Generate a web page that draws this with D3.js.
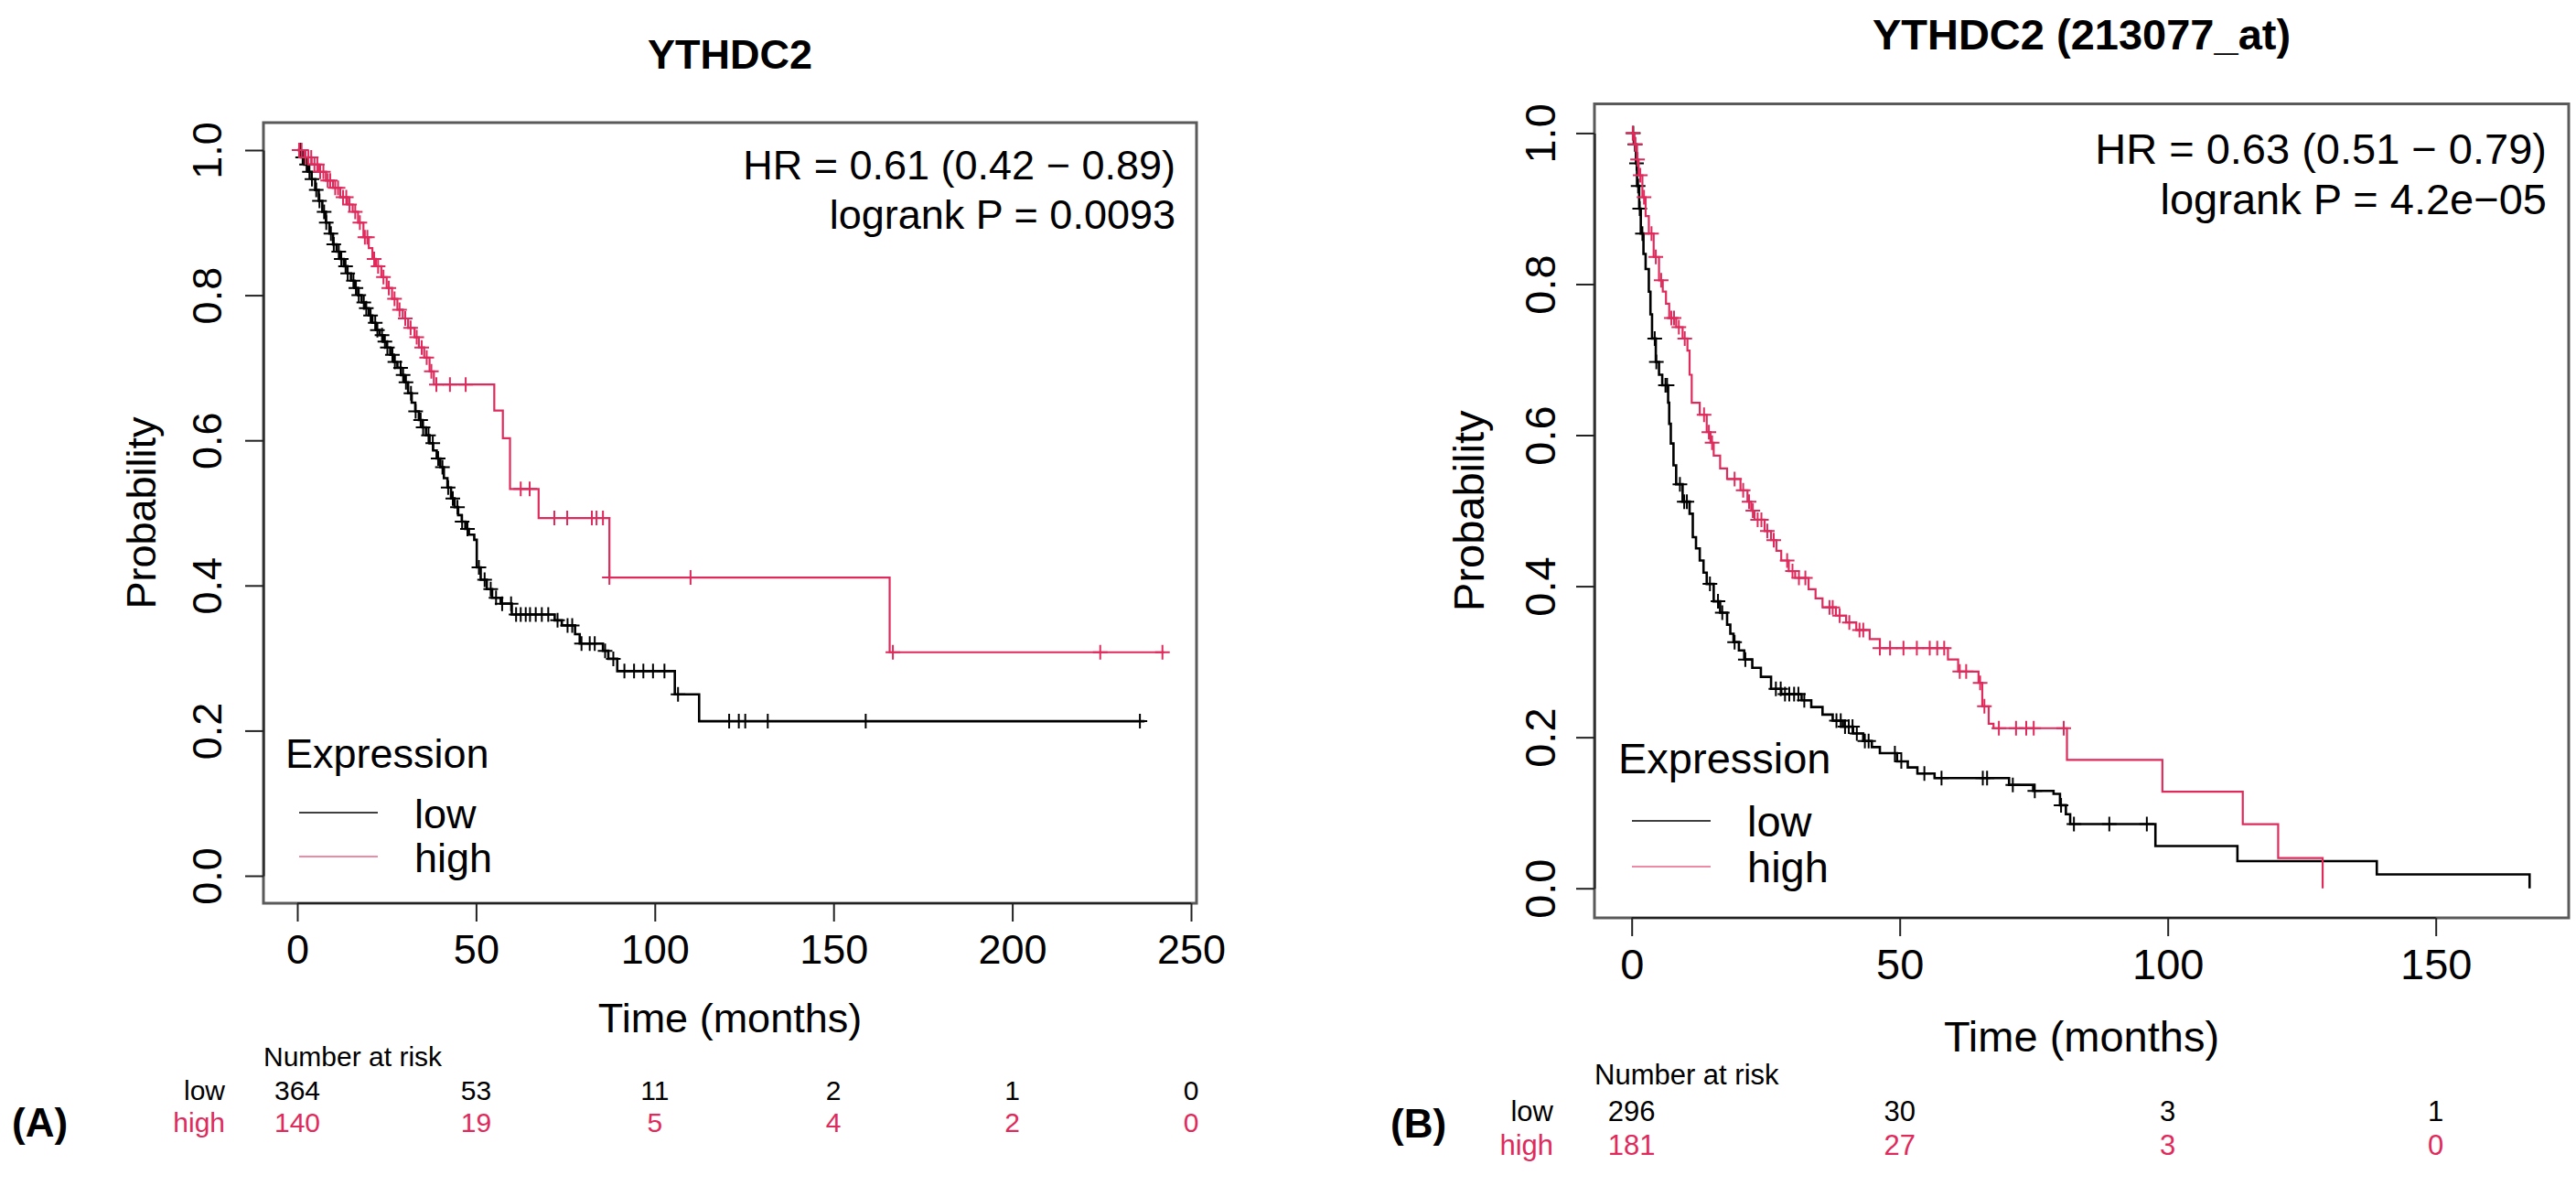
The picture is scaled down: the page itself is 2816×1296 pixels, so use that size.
<!DOCTYPE html>
<html>
<head>
<meta charset="utf-8">
<script src="https://cdnjs.cloudflare.com/ajax/libs/d3/7.8.5/d3.min.js"></script>
<style>
  body { margin: 0; background: #fff; }
  svg text { font-family: "Liberation Sans", Arial, sans-serif; }
</style>
</head>
<body>
<svg id="chart" width="2816" height="1296"></svg>
<script>
// ---- panel A data (YTHDC2) : [time in months, survival after step]
var lowA = [[0,1],[1,0.99],[2,0.98],[3,0.97],[4,0.96],[5,0.945],[6,0.93],[7,0.915],[8,0.9],[9,0.885],
  [10,0.87],[11,0.86],[12,0.85],[13,0.84],[14,0.83],[15,0.82],[16,0.81],[17,0.8],[18,0.79],[19,0.782],
  [20,0.772],[21,0.762],[22,0.752],[23,0.745],[24,0.736],[25,0.728],[26,0.718],[27,0.708],[28,0.7],[29,0.69],
  [30,0.68],[31,0.665],[32,0.652],[33,0.64],[34,0.628],[35,0.618],[36,0.607],[37,0.596],[38,0.586],[39,0.575],
  [40,0.563],[41,0.548],[42,0.535],[43,0.52],[44,0.508],[45,0.497],[46,0.488],[47,0.478],[48,0.47],[49.5,0.463],
  [50.2,0.425],[51.3,0.408],[53,0.395],[54.5,0.383],[56.9,0.375],[60,0.36],[72,0.352],[74,0.345],[77.7,0.333],
  [79,0.32],[85.5,0.31],[87,0.299],[89.5,0.282],[105.6,0.25],[112.4,0.213],[237,0.213]];
var highA = [[0,1],[2,0.99],[4,0.98],[6,0.97],[8,0.958],[10,0.948],[12,0.935],[14,0.925],[15.5,0.915],[17,0.9],
  [18.5,0.88],[20,0.865],[21,0.85],[22,0.84],[23.5,0.825],[25,0.81],[26.5,0.795],[28,0.78],[29.5,0.768],[31,0.755],
  [32.8,0.742],[34,0.728],[35.5,0.714],[37,0.695],[38.2,0.677],[55.1,0.641],[57.5,0.603],[59.5,0.533],[67.5,0.493],
  [87.3,0.411],[165.7,0.308],[242.5,0.308]];
var censLowA = [0.8,1.5,2.6,3.4,4.1,5.3,6.2,7.5,8.1,9.4,10.2,11.6,12.3,13.5,14.1,15.7,16.4,17.2,18.6,19.3,20.5,21.8,
  22.4,23.7,24.5,25.2,26.6,27.3,28.9,29.6,30.4,31.8,33.1,34.5,35.2,36.7,37.9,39.4,40.6,42.2,43.5,44.8,46.1,47.6,
  50.8,52.4,54.1,55.6,57.3,59.8,61.2,62.5,63.9,65.1,66.7,68.4,70.2,72.8,75.6,76.9,79.5,81.8,83.2,86.1,88.4,91.5,
  94.2,96.8,99.5,102.7,106.5,120.8,123.5,125.3,131.6,159,235.7];
var censHighA = [0.5,1.2,2.3,3.1,3.9,4.8,5.6,6.4,7.3,8.5,9.2,10.6,11.4,12.8,13.7,14.6,16.2,17.5,18.9,19.6,21.5,22.6,
  24.1,25.6,27.2,28.6,30.2,31.7,33.4,34.8,36.2,37.5,38.9,42.7,47.1,62.5,65,71.9,75.5,82.4,83.7,85.5,87.3,110,
  166.6,224.6,242];
var riskTimesA = [0, 50, 100, 150, 200, 250];
var riskLowA = [364, 53, 11, 2, 1, 0];
var riskHighA = [140, 19, 5, 4, 2, 0];
var xTicksA = [0, 50, 100, 150, 200, 250];

// ---- panel B data (YTHDC2 (213077_at))
var lowB = [[0,1],[0.4,0.985],[0.8,0.96],[1,0.93],[1.4,0.9],[1.7,0.867],[2.2,0.84],[2.6,0.82],[3.2,0.79],[3.5,0.76],
  [3.8,0.728],[4.5,0.697],[5.1,0.68],[5.7,0.666],[6.8,0.643],[7,0.615],[7.3,0.589],[7.8,0.56],[8.3,0.535],[9.5,0.512],
  [10.8,0.496],[11.4,0.465],[12,0.45],[12.7,0.434],[13.4,0.418],[14,0.403],[15.3,0.38],[16.5,0.365],[17.8,0.349],
  [18.4,0.337],[19,0.326],[20,0.315],[21,0.303],[22.5,0.292],[24.1,0.28],[26,0.264],[27.9,0.257],[31.7,0.249],
  [33.5,0.24],[35.6,0.23],[37.5,0.222],[39.4,0.214],[41.3,0.205],[43.2,0.195],[44.8,0.187],[46.3,0.179],[49.5,0.168],
  [51.5,0.16],[53.3,0.152],[56.5,0.146],[70.4,0.137],[74.9,0.129],[78.7,0.125],[79.9,0.11],[81,0.098],[81.8,0.085],
  [97.7,0.056],[113,0.036],[139,0.0185],[167.5,0]];
var highB = [[0,1],[0.5,0.985],[1,0.965],[1.3,0.944],[2,0.915],[2.6,0.89],[3.2,0.867],[4.1,0.836],[5.1,0.805],
  [5.8,0.79],[6.4,0.774],[7,0.755],[8.3,0.743],[9.5,0.728],[10.4,0.712],[10.8,0.68],[11.2,0.643],[12.7,0.627],
  [14,0.604],[14.7,0.59],[15.3,0.573],[16.5,0.556],[17.8,0.542],[20.3,0.527],[21.6,0.512],[22.3,0.5],[22.9,0.488],
  [24.8,0.473],[26,0.461],[27,0.447],[27.9,0.434],[29.3,0.42],[30.5,0.411],[33,0.396],[34.3,0.384],[35.6,0.372],
  [38.1,0.361],[40,0.352],[41.9,0.342],[44.4,0.33],[46.3,0.318],[59,0.303],[60.9,0.287],[64.7,0.272],[65.4,0.241],
  [66.6,0.218],[67.5,0.212],[81.2,0.17],[99,0.128],[114,0.085],[120.6,0.04],[128.9,0]];
var censLowB = [0.3,0.6,0.9,1.2,1.5,2,4.3,4.6,6.3,6.6,9,9.8,10.3,14.6,16.1,16.9,19.2,21.2,26.9,27.8,28.6,29.4,30.3,
  31.1,32.2,38.2,39,39.8,40.5,41.2,42,43.5,44.2,49.1,50.3,54.6,57.8,65.5,66.3,71.1,75.2,80.1,82.5,89.1,96.1];
var censHighB = [0.2,0.7,1.1,1.6,2.3,3.7,4.5,5.5,7.4,7.9,8.8,9.9,13.5,14.4,15,19.2,20.8,21.9,22.6,23.5,24.2,25.3,
  26.5,29,30,31.2,32.4,36.9,37.5,38.8,40.6,42.5,43.2,46.3,48.2,50.7,53.2,55.6,57,58.3,61.2,62.4,65,65.8,68.5,
  71.7,73.6,75,80.6];
var riskTimesB = [0, 50, 100, 150];
var riskLowB = [296, 30, 3, 1];
var riskHighB = [181, 27, 3, 0];
var xTicksB = [0, 50, 100, 150];

var yTicks = [0, 0.2, 0.4, 0.6, 0.8, 1.0];
var RED = "#df2a5c";

var svg = d3.select("#chart");

function survAt(curve, t) {
  var i = d3.bisector(function(d) { return d[0]; }).right(curve, t) - 1;
  return curve[Math.max(0, i)][1];
}

function drawPanel(p) {
  var g = svg.append("g");
  var x = d3.scaleLinear().domain([0, p.xMax]).range([p.x0, p.x1]);
  var y = d3.scaleLinear().domain([0, 1]).range([p.y0, p.y1]);
  var fs = p.fs;

  // title
  g.append("text").attr("x", (p.boxL + p.boxR) / 2).attr("y", p.titleY)
   .attr("text-anchor", "middle").attr("font-weight", "bold").attr("font-size", fs)
   .text(p.title);

  // box
  g.append("rect").attr("x", p.boxL).attr("y", p.boxT)
   .attr("width", p.boxR - p.boxL).attr("height", p.boxB - p.boxT)
   .attr("fill", "none").attr("stroke", "#5a5a5a").attr("stroke-width", 3);

  // axes
  var xa = g.append("g").attr("transform", "translate(0," + p.boxB + ")")
    .call(d3.axisBottom(x).tickValues(p.xTicks).tickSize(20).tickSizeOuter(0).tickPadding(14));
  xa.selectAll("text").attr("font-size", fs).attr("fill", "#000");
  xa.selectAll("line, path").attr("stroke", "#222").attr("stroke-width", 2);
  xa.select(".domain").attr("d", "M" + x(p.xTicks[0]) + ",0H" + x(p.xTicks[p.xTicks.length - 1]));

  var ya = g.append("g").attr("transform", "translate(" + p.boxL + ",0)")
    .call(d3.axisLeft(y).tickValues(yTicks).tickSize(20).tickSizeOuter(0).tickFormat(d3.format(".1f")));
  ya.selectAll("line, path").attr("stroke", "#222").attr("stroke-width", 2);
  ya.selectAll(".tick text").attr("font-size", fs).attr("fill", "#000")
    .attr("transform", "rotate(-90)").attr("x", 0).attr("y", p.yLabOff).attr("dy", 0)
    .attr("text-anchor", "middle");

  g.append("text").attr("transform", "translate(" + p.probX + "," + ((p.boxT + p.boxB) / 2) + ") rotate(-90)")
   .attr("text-anchor", "middle").attr("font-size", fs).text("Probability");
  g.append("text").attr("x", (p.boxL + p.boxR) / 2).attr("y", p.timeY)
   .attr("text-anchor", "middle").attr("font-size", fs).text("Time (months)");

  // curves
  var line = d3.line().curve(d3.curveStepAfter)
    .x(function(d) { return x(d[0]); }).y(function(d) { return y(d[1]); });
  var series = [
    { curve: p.low, cens: p.censLow, color: "#000", w: 2.6 },
    { curve: p.high, cens: p.censHigh, color: RED, w: 2.2 }
  ];
  series.forEach(function(s) {
    g.append("path").datum(s.curve).attr("d", line)
     .attr("fill", "none").attr("stroke", s.color).attr("stroke-width", s.w);
    var c = 8;
    g.selectAll(null).data(s.cens).enter().append("path")
     .attr("d", function(t) {
        var cx = x(t), cy = y(survAt(s.curve, t));
        return "M" + (cx - c) + "," + cy + "H" + (cx + c) + "M" + cx + "," + (cy - c) + "V" + (cy + c);
     })
     .attr("stroke", s.color).attr("stroke-width", 2).attr("fill", "none");
  });

  // HR text
  g.append("text").attr("x", p.hrX).attr("y", p.hrY).attr("text-anchor", "end")
   .attr("font-size", fs).text(p.hr);
  g.append("text").attr("x", p.hrX).attr("y", p.hrY + p.lineGap).attr("text-anchor", "end")
   .attr("font-size", fs).text(p.pval);

  // legend
  g.append("text").attr("x", p.legX).attr("y", p.legY).attr("font-size", fs).text("Expression");
  [["low", "#000"], ["high", RED]].forEach(function(l, i) {
    var ly = p.legY + p.legRow1 + i * p.legGap;
    g.append("line").attr("x1", p.legX + 15).attr("x2", p.legX + 101)
     .attr("y1", ly - 17).attr("y2", ly - 17)
     .attr("stroke", l[1]).attr("stroke-width", 2.2).attr("stroke-opacity", i ? 0.55 : 0.75);
    g.append("text").attr("x", p.legX + 141).attr("y", ly).attr("font-size", fs).text(l[0]);
  });

  // number at risk
  g.append("text").attr("x", p.boxL).attr("y", p.riskY0).attr("font-size", p.rfs).text("Number at risk");
  [["low", p.riskLow, "#000"], ["high", p.riskHigh, RED]].forEach(function(r, i) {
    var ry = p.riskY1 + i * p.riskGap;
    g.append("text").attr("x", p.riskLabX).attr("y", ry).attr("text-anchor", "end")
     .attr("font-size", p.rfs).attr("fill", r[2]).text(r[0]);
    g.selectAll(null).data(p.riskTimes).enter().append("text")
     .attr("x", function(t) { return x(t); }).attr("y", ry).attr("text-anchor", "middle")
     .attr("font-size", p.rfs).attr("fill", r[2])
     .text(function(t, j) { return r[1][j]; });
  });

  g.append("text").attr("x", p.tagX).attr("y", p.tagY).attr("font-size", 44)
   .attr("font-weight", "bold").text(p.tag);
}

drawPanel({
  title: "YTHDC2", tag: "(A)", fs: 45, rfs: 30,
  low: lowA, high: highA, censLow: censLowA, censHigh: censHighA,
  riskTimes: riskTimesA, riskLow: riskLowA, riskHigh: riskHighA, xTicks: xTicksA,
  xMax: 250, x0: 325, x1: 1302, y0: 957, y1: 164,
  boxL: 288, boxR: 1308, boxT: 134, boxB: 987,
  titleY: 75, yLabOff: -46, probX: 170, timeY: 1128,
  hr: "HR = 0.61 (0.42 \u2212 0.89)", pval: "logrank P = 0.0093", hrX: 1285, hrY: 196, lineGap: 54,
  legX: 312, legY: 839, legRow1: 66, legGap: 48,
  riskY0: 1165, riskY1: 1202, riskGap: 35, riskLabX: 246,
  tagX: 13, tagY: 1242
});

drawPanel({
  title: "YTHDC2 (213077_at)", tag: "(B)", fs: 47, rfs: 31,
  low: lowB, high: highB, censLow: censLowB, censHigh: censHighB,
  riskTimes: riskTimesB, riskLow: riskLowB, riskHigh: riskHighB, xTicks: xTicksB,
  xMax: 150, x0: 1783.7, x1: 2662.7, y0: 970.7, y1: 145.4,
  boxL: 1743, boxR: 2808, boxT: 113.5, boxB: 1003,
  titleY: 54, yLabOff: -43, probX: 1622, timeY: 1149,
  hr: "HR = 0.63 (0.51 \u2212 0.79)", pval: "logrank P = 4.2e\u221205", hrX: 2784, hrY: 179, lineGap: 55,
  legX: 1769, legY: 845, legRow1: 69, legGap: 50,
  riskY0: 1185, riskY1: 1225, riskGap: 37, riskLabX: 1698,
  tagX: 1520, tagY: 1243
});
</script>
</body>
</html>
